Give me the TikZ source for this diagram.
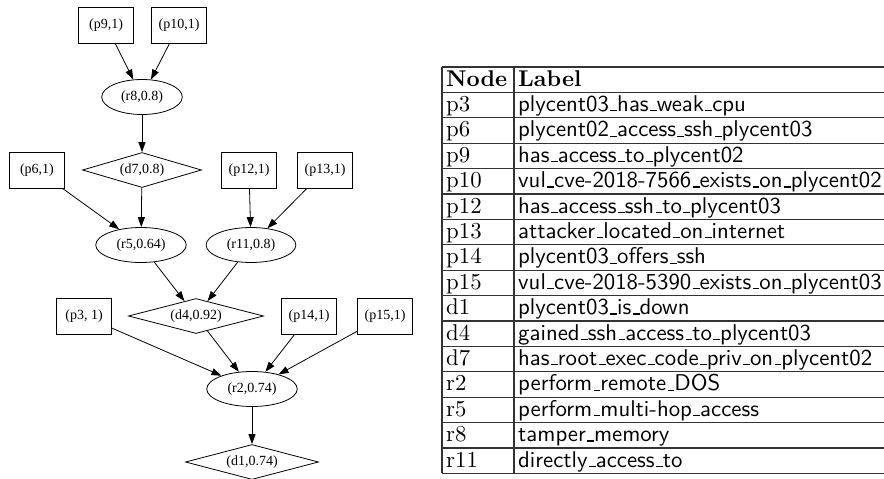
\documentclass[tikz,border=0pt]{standalone}
\usepackage{fontspec}
\newfontfamily\dotfont{Liberation Serif}
\newfontfamily\tabrm{lmroman10-regular.otf}[BoldFont=lmroman10-bold.otf]
\newfontfamily\tabsf{lmsans10-regular.otf}
\usetikzlibrary{arrows.meta,shapes.geometric}
\def\us{\kern.06em\vrule width.3em height.05em depth0pt\relax}

\tikzset{
  dottext/.style={font=\dotfont\fontsize{14}{16}\selectfont},
  factbox/.style={dottext, draw, rectangle, line width=0.8pt, minimum width=55pt, minimum height=36pt, inner sep=0pt},
  rulenode/.style={dottext, draw, ellipse, line width=0.8pt, inner xsep=7.5pt, inner ysep=0pt, minimum height=35pt},
  goalnode/.style={dottext, draw, diamond, shape aspect=3.4, line width=0.8pt, inner sep=0pt, minimum height=35pt},
  edge/.style={-{Triangle[length=10pt,width=7pt]}, line width=0.8pt},
  tabline/.style={line width=1.3pt, color=black!80},
  tabtext/.style={anchor=base west, inner sep=0pt, font=\tabrm\fontsize{22.8}{27}\selectfont},
  tabhead/.style={tabtext, font=\tabrm\bfseries\fontsize{22.8}{27}\selectfont},
  tablabel/.style={tabtext, font=\tabsf\fontsize{22.8}{27}\selectfont},
}

\begin{document}
\begin{tikzpicture}[x=1pt, y=-1pt]
  \useasboundingbox (0,0) rectangle (884,479);

  %%%%% graph %%%%%
  \node[factbox] (p9) at (106,25) {(p9,1)};
  \node[factbox] (p10) at (179,25) {(p10,1)};
  \node[rulenode] (r8) at (142,97) {(r8,0.8)};

  \node[factbox] (p6) at (37,170) {(p6,1)};
  \node[goalnode, minimum width=119pt] (d7) at (142,170) {(d7,0.8)};
  \node[factbox] (p12) at (249,170) {(p12,1)};
  \node[factbox] (p13) at (325,170) {(p13,1)};

  \node[rulenode] (r5) at (141,245) {(r5,0.64)};
  \node[rulenode] (r11) at (251,245) {(r11,0.8)};

  \node[factbox] (p3) at (84,316) {(p3, 1)};
  \node[goalnode, minimum width=135pt] (d4) at (196,316) {(d4,0.92)};
  \node[factbox] (p14) at (309,316) {(p14,1)};
  \node[factbox] (p15) at (385,316) {(p15,1)};

  \node[rulenode] (r2) at (252,389) {(r2,0.74)};
  \node[goalnode, minimum width=133pt] (d1) at (252,462) {(d1,0.74)};

  \draw[edge] (p9) -- (r8);
  \draw[edge] (p10) -- (r8);
  \draw[edge] (r8) -- (d7);
  \draw[edge] (p6) -- (r5);
  \draw[edge] (d7) -- (r5);
  \draw[edge] (p12) -- (r11);
  \draw[edge] (p13) -- (r11);
  \draw[edge] (r5) -- (d4);
  \draw[edge] (r11) -- (d4);
  \draw[edge] (p3) -- (r2);
  \draw[edge] (d4) -- (r2);
  \draw[edge] (p14) -- (r2);
  \draw[edge] (p15) -- (r2);
  \draw[edge] (r2) -- (d1);

  %%%%% table %%%%%
  \foreach \i in {0,...,16}
    \draw[tabline] (442,67+25.4*\i) -- (884,67+25.4*\i);
  \draw[tabline] (442,67) -- (442,473.4);
  \draw[tabline] (514,67) -- (514,473.4);

  \node[tabhead] (hnode) at (446,86) {Node};
  \node[tabhead] (hlabel) at (518,86) {Label};
  \foreach \id/\lab [count=\i] in {
      p3/plycent03\us has\us weak\us cpu,
      p6/plycent02\us access\us ssh\us plycent03,
      p9/has\us access\us to\us plycent02,
      p10/vul\us cve-2018-7566\us exists\us on\us plycent02,
      p12/has\us access\us ssh\us to\us plycent03,
      p13/attacker\us located\us on\us internet,
      p14/plycent03\us offers\us ssh,
      p15/vul\us cve-2018-5390\us exists\us on\us plycent03,
      d1/plycent03\us is\us down,
      d4/gained\us ssh\us access\us to\us plycent03,
      d7/has\us root\us exec\us code\us priv\us on\us plycent02,
      r2/perform\us remote\us DOS,
      r5/perform\us multi-hop\us access,
      r8/tamper\us memory,
      r11/directly\us access\us to} {
    \node[tabtext] (id\i) at (446,86+25.4*\i) {\id};
    \node[tablabel] (lab\i) at (518,86+25.4*\i) {\lab};
  }
\end{tikzpicture}
\end{document}
